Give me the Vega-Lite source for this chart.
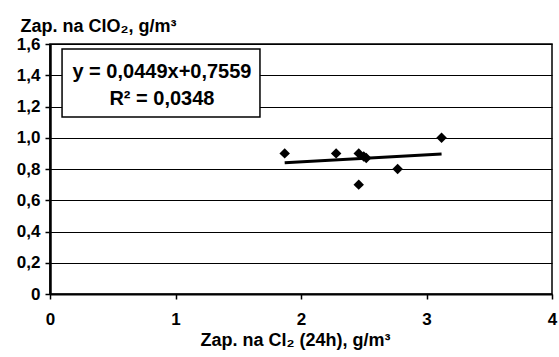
{
  "$schema": "https://vega.github.io/schema/vega-lite/v6.json",
  "width": 502,
  "height": 250,
  "autosize": "none",
  "padding": {"left": 50, "top": 44, "right": 7, "bottom": 63},
  "background": "white",
  "config": {
    "font": "Liberation Sans",
    "view": {"stroke": "black", "strokeWidth": 1.5},
    "axis": {
      "labelFont": "Liberation Sans", "labelFontSize": 17, "labelFontWeight": "bold", "labelColor": "black",
      "titleFont": "Liberation Sans", "titleFontSize": 18, "titleFontWeight": "bold", "titleColor": "black",
      "domainColor": "black", "tickColor": "black", "gridColor": "black", "gridOpacity": 1, "gridWidth": 1,
      "labelOverlap": false, "labelFlush": false
    }
  },
  "datasets": {
    "pts": [
      {"x": 1.87, "y": 0.9},
      {"x": 2.28, "y": 0.9},
      {"x": 2.46, "y": 0.9},
      {"x": 2.5, "y": 0.88},
      {"x": 2.52, "y": 0.87},
      {"x": 2.46, "y": 0.7},
      {"x": 2.77, "y": 0.8},
      {"x": 3.12, "y": 1.0}
    ],
    "trend": [
      {"x": 1.87, "y": 0.8399},
      {"x": 3.12, "y": 0.8960}
    ],
    "box": [
      {"x": 0.096, "x2": 1.673, "y": 1.133, "y2": 1.568}
    ],
    "eq": [
      {"x": 0.892, "y": 1.382, "t": "y = 0,0449x+0,7559"},
      {"x": 0.892, "y": 1.2096, "t": "R² = 0,0348"}
    ]
  },
  "encoding": {
    "x": {
      "field": "x", "type": "quantitative",
      "scale": {"domain": [0, 4], "nice": false},
      "axis": {
        "values": [0, 1, 2, 3, 4], "grid": false, "domainWidth": 2, "tickSize": 5, "tickWidth": 1.5,
        "labelPadding": 12, "labelExpr": "format(datum.value, 'd')",
        "title": "Zap. na Cl₂ (24h), g/m³", "titleBaseline": "alphabetic", "titleY": 51, "titleX": 245
      }
    },
    "y": {
      "field": "y", "type": "quantitative",
      "scale": {"domain": [0, 1.6], "nice": false},
      "axis": {
        "values": [0, 0.2, 0.4, 0.6, 0.8, 1.0, 1.2, 1.4, 1.6], "grid": true, "domainWidth": 2.5,
        "tickSize": 5, "tickWidth": 1.5, "labelPadding": 5,
        "labelExpr": "datum.value == 0 ? '0' : replace(format(datum.value, '.1f'), '.', ',')",
        "title": "Zap. na ClO₂, g/m³", "titleAngle": 0, "titleAlign": "left", "titleBaseline": "alphabetic",
        "titleX": -30, "titleY": -13
      }
    }
  },
  "layer": [
    {
      "data": {"name": "pts"},
      "mark": {"type": "point", "shape": "diamond", "filled": true, "color": "black", "size": 110, "opacity": 1}
    },
    {
      "data": {"name": "trend"},
      "mark": {"type": "line", "color": "black", "strokeWidth": 3}
    },
    {
      "data": {"name": "box"},
      "mark": {"type": "rect", "fill": "white", "stroke": "black", "strokeWidth": 1.5},
      "encoding": {
        "x2": {"field": "x2"},
        "y2": {"field": "y2"}
      }
    },
    {
      "data": {"name": "eq"},
      "mark": {"type": "text", "font": "Liberation Sans", "fontSize": 20, "fontWeight": "bold", "color": "black", "align": "center", "baseline": "alphabetic"},
      "encoding": {
        "text": {"field": "t"}
      }
    }
  ]
}
